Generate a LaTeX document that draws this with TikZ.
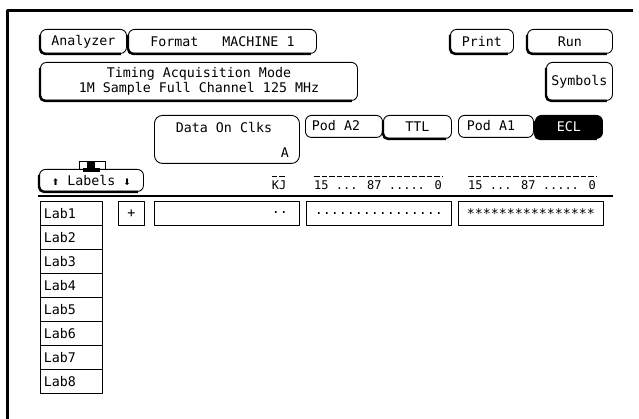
\documentclass[tikz,border=0pt]{standalone}
\usepackage{fontspec}
\usetikzlibrary{calc}
\newfontfamily\hpfont{DejaVu Sans Mono}
\newfontfamily\arrowfont{DejaVu Sans}
\newcommand\hp{\hpfont\fontsize{13.3}{15}\selectfont}
\newcommand\hpsmall{\hpfont\fontsize{12}{14}\selectfont}
\newcommand\uparr{{\arrowfont\fontsize{9}{9}\selectfont ⬆}}
\newcommand\downarr{{\arrowfont\fontsize{9}{9}\selectfont ⬇}}
% thick shading along the left and bottom edge of a soft key
\newcommand\keyshadow[1]{\draw[keyshade] ([yshift=-6pt]#1.north west) -- (#1.south west) -- ([xshift=-6pt]#1.south east);}
\tikzset{
  key/.style={draw, line width=0.9pt, rounded corners=6pt, anchor=north west, inner sep=0pt, font=\hp},
  cell/.style={draw, line width=0.9pt, anchor=north west, inner sep=0pt, font=\hp},
  txt/.style={inner sep=0pt, font=\hp},
  bits/.style={inner sep=0pt, font=\hpsmall},
  keyshade/.style={line width=2.4pt, rounded corners=5pt},
  overdash/.style={line width=0.8pt, dash pattern=on 5.5pt off 2pt},
}
\begin{document}
\begin{tikzpicture}[x=1pt, y=-1pt, line join=round]
\useasboundingbox (0,0) rectangle (639,419);
\fill[white] (0,0) rectangle (639,419);

% screen frame
\draw[line width=3pt] (7.5,419) -- (7.5,11) -- (633,11);

% top row of keys
\node[key, minimum width=86pt, minimum height=24pt] (analyzer) at (40,29) {Analyzer};
\node[key, minimum width=188pt, minimum height=24pt] (format) at (128,29) {Format\ \ \ MACHINE 1};
\node[key, minimum width=63pt, minimum height=24pt] (print) at (450,29) {Print};
\node[key, minimum width=85pt, minimum height=24pt] (run) at (527,29) {Run};
\node[key, minimum width=317pt, minimum height=38pt, align=center] (mode) at (40,62)
  {Timing Acquisition Mode\\1M Sample Full Channel 125 MHz};
\node[key, minimum width=66pt, minimum height=38pt] (symbols) at (546,62) {Symbols};
\foreach \k in {analyzer,format,print,run,mode,symbols} {\keyshadow{\k}}

% clock and pod settings
\node[key, rounded corners=8pt, minimum width=145pt, minimum height=48pt] (clks) at (154,115) {};
\node[txt] (clkstitle) at (224,128) {Data On Clks};
\node[txt, anchor=east] (clksedge) at (289,153) {A};
\node[key, minimum width=77pt, minimum height=22pt] (poda2) at (305,115) {};
\node[txt] (poda2txt) at (336,126) {Pod A2};
\node[key, minimum width=68pt, minimum height=23pt] (ttl) at (383,115) {TTL};
\node[key, minimum width=75pt, minimum height=22pt] (poda1) at (458,115) {};
\node[txt] (poda1txt) at (491,126) {Pod A1};
\node[key, fill=black, text=white, minimum width=67pt, minimum height=23pt] (ecl) at (535,115) {ECL};
\keyshadow{ttl}
\keyshadow{ecl}

% labels key with its tab
\node[key, minimum width=104pt, minimum height=22pt] (labels) at (39,169) {\uparr\ Labels \downarr};
\keyshadow{labels}
\draw[line width=0.9pt] ($(labels.north west)+(40,0)$) |- ($(labels.north west)+(66,-8)$) -- ($(labels.north west)+(66,0)$);
\fill ($(labels.north west)+(48,-7)$) rectangle ($(labels.north west)+(56,0)$);
\fill ($(labels.north west)+(44,-1)$) rectangle ($(labels.north west)+(61,3)$);

% bit assignment headers
\node[bits] (kj) at (279,185) {KJ};
\draw[overdash] ([yshift=4pt]kj.north west) -- ([yshift=4pt]kj.north east);
\node[bits, anchor=west] (bitsa2) at (314,185) {15 ... 87 ..... 0};
\draw[overdash] ([yshift=3.5pt]bitsa2.north west) -- ([yshift=3.5pt]bitsa2.north east);
\node[bits, anchor=west] (bitsa1) at (468,185) {15 ... 87 ..... 0};
\draw[overdash] ([yshift=3.5pt]bitsa1.north west) -- ([yshift=3.5pt]bitsa1.north east);
\draw[line width=2pt] (38,196) -- (613,196);

% label rows
\foreach \i in {1,...,8} {
  \node[cell, minimum height=24pt, text width=55pt, align=left, inner xsep=3.5pt] (lab\i) at (40,{201+24*(\i-1)}) {Lab\i};
}
\node[cell, minimum width=26pt, minimum height=24pt] (polarity) at (118,201) {+};
\node[cell, minimum width=145pt, minimum height=24pt] (clkfield) at (154,201) {};
\node[txt, anchor=east] (clkdots) at (288,213) {..};
\node[cell, minimum width=145pt, minimum height=24pt] (a2field) at (306,201) {................};
\node[cell, minimum width=145pt, minimum height=24pt] (a1field) at (458,201) {****************};
\end{tikzpicture}
\end{document}
